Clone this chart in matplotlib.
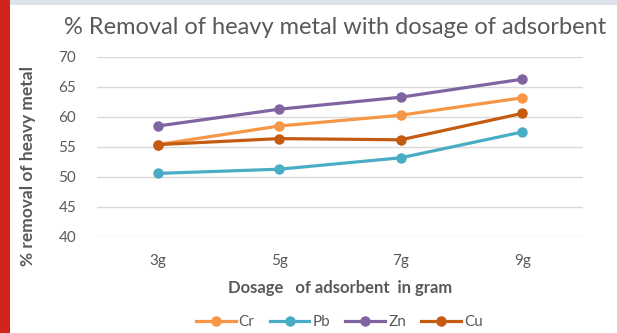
import matplotlib
matplotlib.use("Agg")
import matplotlib.pyplot as plt
from matplotlib.patches import Rectangle

doses = ["3g", "5g", "7g", "9g"]
cr = [55.4, 58.5, 60.3, 63.2]
pb = [50.6, 51.3, 53.2, 57.5]
zn = [58.5, 61.3, 63.3, 66.3]
cu = [55.4, 56.4, 56.2, 60.6]

series = [("Cr", cr, "#F79646"), ("Pb", pb, "#4BACC6"),
          ("Zn", zn, "#8064A2"), ("Cu", cu, "#C55A11")]

plt.rcParams["font.family"] = ["Lato", "DejaVu Sans"]
text_color = "#595959"

fig = plt.figure(figsize=(6.17, 3.33), dpi=100)
fig.patch.set_facecolor("white")

# red bar on the left and grey strip on top (frame of the screenshot)
fig.add_artist(Rectangle((0, 0), 10 / 617, 1, transform=fig.transFigure,
                         facecolor="#D2231A", edgecolor="none"))
fig.add_artist(Rectangle((10 / 617, 1 - 5 / 333), 1, 5 / 333, transform=fig.transFigure,
                         facecolor="#DCE3EA", edgecolor="none"))

ax = fig.add_axes([97 / 617, 1 - 237 / 333, 486 / 617, 180 / 333])
x = list(range(len(doses)))
for name, vals, col in series:
    ax.plot(x, vals, color=col, lw=2.3, marker="o", ms=6.5, label=name, clip_on=False)

ax.set_xlim(-0.5, 3.5)
ax.set_ylim(40, 70)
ax.set_yticks(range(40, 71, 5))
ax.set_xticks(x)
ax.set_xticklabels(doses)
ax.grid(axis="y", color="#D9D9D9", lw=1)
ax.set_axisbelow(True)
for s in ax.spines.values():
    s.set_visible(False)
ax.tick_params(length=0, colors=text_color, labelsize=11)
ax.tick_params(axis="y", pad=15)
ax.tick_params(axis="x", pad=12)

fig.text(0.543, 1 - 27 / 333, "% Removal of heavy metal with dosage of adsorbent",
         ha="center", va="center", fontsize=17, color=text_color)
ax.set_ylabel("% removal of heavy metal", fontsize=12.5, fontweight="bold",
              color=text_color, va="center")
ax.yaxis.set_label_coords(-0.142, 0.394)
ax.set_xlabel("Dosage   of adsorbent  in gram", fontsize=12, fontweight="bold",
              color=text_color, labelpad=9)

fig.legend(loc="center", bbox_to_anchor=(0.55, 1 - 322 / 333), ncol=4, frameon=False,
           fontsize=11, labelcolor=text_color, handlelength=2.6, columnspacing=1.0,
           handletextpad=0.2)

fig.savefig("out.png", dpi=100)
